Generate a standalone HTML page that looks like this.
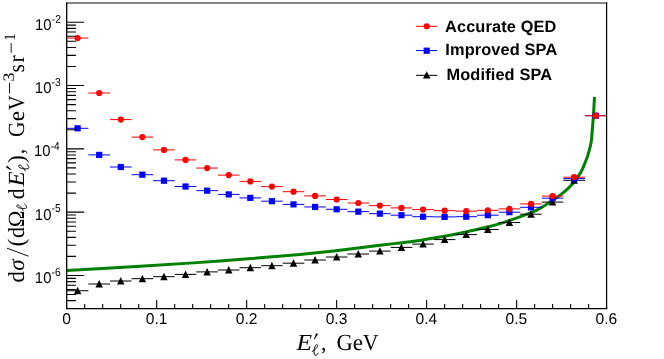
<!DOCTYPE html>
<html><head><meta charset="utf-8"><title>plot</title>
<style>
html,body{margin:0;padding:0;background:#fff;}
body{width:664px;height:359px;position:relative;overflow:hidden;font-family:"Liberation Sans",sans-serif;color:#000;}
#wrap{position:absolute;left:0;top:0;width:664px;height:359px;will-change:transform;text-rendering:geometricPrecision;}
.t{position:absolute;white-space:nowrap;line-height:1;}
.yl{font-size:16px;}
.yl sup{font-size:11.3px;position:relative;top:-6.9px;vertical-align:baseline;line-height:0;margin-left:-0.9px}
.xl{font-size:16px;width:60px;text-align:center;}
.lg{font-size:16.35px;letter-spacing:0.13px;font-weight:bold;}
</style></head><body><div id="wrap">
<svg width="664" height="359" viewBox="0 0 664 359" style="position:absolute;left:0;top:0">
<path d="M66.7 270.4 C78.92 269.72 114.45 267.87 140 266.3 C165.55 264.73 193.33 262.98 220 261 C246.67 259.02 280 256.2 300 254.4 C320 252.6 326.67 251.72 340 250.2 C353.33 248.68 370 246.52 380 245.3 C390 244.08 393.33 243.72 400 242.9 C406.67 242.08 413.33 241.37 420 240.4 C426.67 239.43 433.33 238.3 440 237.1 C446.67 235.9 453.33 234.58 460 233.2 C466.67 231.82 473.33 230.4 480 228.8 C486.67 227.2 491.45 226.3 500 223.6 C508.55 220.9 524.42 215.27 531.3 212.6 C538.18 209.93 537.97 209.48 541.3 207.6 C544.63 205.72 548.17 203.38 551.3 201.3 C554.43 199.22 557.38 197.18 560.1 195.1 C562.82 193.02 565.3 190.9 567.6 188.8 C569.9 186.7 572.12 184.58 573.9 182.5 C575.68 180.42 576.95 178.38 578.3 176.3 C579.65 174.22 580.85 172.3 582 170 C583.15 167.7 584.22 164.98 585.2 162.5 C586.18 160.02 586.92 158.43 587.9 155.1 C588.88 151.77 590.37 146.68 591.1 142.5 C591.83 138.32 591.88 134.92 592.3 130 C592.72 125.08 593.24 118.52 593.6 113 C593.96 107.48 594.31 99.58 594.45 96.9" fill="none" stroke="#008000" stroke-width="3" stroke-linecap="butt" stroke-linejoin="round"/>
<g stroke="#000" stroke-width="1" fill="#000">
<path d="M66.8 290.75H88.4" fill="none"/>
<path d="M77.6 286.85L81.35 294.25L73.85 294.25Z" stroke="none"/>
<path d="M88.39 284H109.99" fill="none"/>
<path d="M99.19 280.1L102.94 287.5L95.44 287.5Z" stroke="none"/>
<path d="M109.98 281H131.58" fill="none"/>
<path d="M120.78 277.1L124.53 284.5L117.03 284.5Z" stroke="none"/>
<path d="M131.57 278.7H153.17" fill="none"/>
<path d="M142.37 274.8L146.12 282.2L138.62 282.2Z" stroke="none"/>
<path d="M153.16 276.7H174.76" fill="none"/>
<path d="M163.96 272.8L167.71 280.2L160.21 280.2Z" stroke="none"/>
<path d="M174.75 274.4H196.35" fill="none"/>
<path d="M185.55 270.5L189.3 277.9L181.8 277.9Z" stroke="none"/>
<path d="M196.34 271.9H217.94" fill="none"/>
<path d="M207.14 268L210.89 275.4L203.39 275.4Z" stroke="none"/>
<path d="M217.93 270H239.53" fill="none"/>
<path d="M228.73 266.1L232.48 273.5L224.98 273.5Z" stroke="none"/>
<path d="M239.52 267.7H261.12" fill="none"/>
<path d="M250.32 263.8L254.07 271.2L246.57 271.2Z" stroke="none"/>
<path d="M261.11 265.7H282.71" fill="none"/>
<path d="M271.91 261.8L275.66 269.2L268.16 269.2Z" stroke="none"/>
<path d="M282.7 263.2H304.3" fill="none"/>
<path d="M293.5 259.3L297.25 266.7L289.75 266.7Z" stroke="none"/>
<path d="M304.29 260H325.89" fill="none"/>
<path d="M315.09 256.1L318.84 263.5L311.34 263.5Z" stroke="none"/>
<path d="M325.88 257H347.48" fill="none"/>
<path d="M336.68 253.1L340.43 260.5L332.93 260.5Z" stroke="none"/>
<path d="M347.47 254H369.07" fill="none"/>
<path d="M358.27 250.1L362.02 257.5L354.52 257.5Z" stroke="none"/>
<path d="M369.06 251.1H390.66" fill="none"/>
<path d="M379.86 247.2L383.61 254.6L376.11 254.6Z" stroke="none"/>
<path d="M390.65 247.4H412.25" fill="none"/>
<path d="M401.45 243.5L405.2 250.9L397.7 250.9Z" stroke="none"/>
<path d="M412.24 244.1H433.84" fill="none"/>
<path d="M423.04 240.2L426.79 247.6L419.29 247.6Z" stroke="none"/>
<path d="M433.83 239.6H455.43" fill="none"/>
<path d="M444.63 235.7L448.38 243.1L440.88 243.1Z" stroke="none"/>
<path d="M455.42 234.6H477.02" fill="none"/>
<path d="M466.22 230.7L469.97 238.1L462.47 238.1Z" stroke="none"/>
<path d="M477.01 229.5H498.61" fill="none"/>
<path d="M487.81 225.6L491.56 233L484.06 233Z" stroke="none"/>
<path d="M498.6 222.5H520.2" fill="none"/>
<path d="M509.4 218.6L513.15 226L505.65 226Z" stroke="none"/>
<path d="M520.19 214.2H541.79" fill="none"/>
<path d="M530.99 210.3L534.74 217.7L527.24 217.7Z" stroke="none"/>
<path d="M541.78 202.1H563.38" fill="none"/>
<path d="M552.58 198.2L556.33 205.6L548.83 205.6Z" stroke="none"/>
<path d="M563.37 180.3H584.97" fill="none"/>
<path d="M574.17 176.4L577.92 183.8L570.42 183.8Z" stroke="none"/>
</g>
<g stroke="#0000ff" stroke-width="1" fill="#0000ff">
<path d="M66.8 128.3H88.4" fill="none"/>
<rect x="74.5" y="125.2" width="6.2" height="6.2" stroke="none"/>
<path d="M88.39 154.9H109.99" fill="none"/>
<rect x="96.09" y="151.8" width="6.2" height="6.2" stroke="none"/>
<path d="M109.98 167H131.58" fill="none"/>
<rect x="117.68" y="163.9" width="6.2" height="6.2" stroke="none"/>
<path d="M131.57 174.7H153.17" fill="none"/>
<rect x="139.27" y="171.6" width="6.2" height="6.2" stroke="none"/>
<path d="M153.16 180.7H174.76" fill="none"/>
<rect x="160.86" y="177.6" width="6.2" height="6.2" stroke="none"/>
<path d="M174.75 186.5H196.35" fill="none"/>
<rect x="182.45" y="183.4" width="6.2" height="6.2" stroke="none"/>
<path d="M196.34 190.65H217.94" fill="none"/>
<rect x="204.04" y="187.55" width="6.2" height="6.2" stroke="none"/>
<path d="M217.93 194.4H239.53" fill="none"/>
<rect x="225.63" y="191.3" width="6.2" height="6.2" stroke="none"/>
<path d="M239.52 197.9H261.12" fill="none"/>
<rect x="247.22" y="194.8" width="6.2" height="6.2" stroke="none"/>
<path d="M261.11 201.2H282.71" fill="none"/>
<rect x="268.81" y="198.1" width="6.2" height="6.2" stroke="none"/>
<path d="M282.7 204.4H304.3" fill="none"/>
<rect x="290.4" y="201.3" width="6.2" height="6.2" stroke="none"/>
<path d="M304.29 206.95H325.89" fill="none"/>
<rect x="311.99" y="203.85" width="6.2" height="6.2" stroke="none"/>
<path d="M325.88 209.3H347.48" fill="none"/>
<rect x="333.58" y="206.2" width="6.2" height="6.2" stroke="none"/>
<path d="M347.47 211.65H369.07" fill="none"/>
<rect x="355.17" y="208.55" width="6.2" height="6.2" stroke="none"/>
<path d="M369.06 213.66H390.66" fill="none"/>
<rect x="376.76" y="210.56" width="6.2" height="6.2" stroke="none"/>
<path d="M390.65 215.2H412.25" fill="none"/>
<rect x="398.35" y="212.1" width="6.2" height="6.2" stroke="none"/>
<path d="M412.24 216.7H433.84" fill="none"/>
<rect x="419.94" y="213.6" width="6.2" height="6.2" stroke="none"/>
<path d="M433.83 216.9H455.43" fill="none"/>
<rect x="441.53" y="213.8" width="6.2" height="6.2" stroke="none"/>
<path d="M455.42 216.7H477.02" fill="none"/>
<rect x="463.12" y="213.6" width="6.2" height="6.2" stroke="none"/>
<path d="M477.01 215.2H498.61" fill="none"/>
<rect x="484.71" y="212.1" width="6.2" height="6.2" stroke="none"/>
<path d="M498.6 212.2H520.2" fill="none"/>
<rect x="506.3" y="209.1" width="6.2" height="6.2" stroke="none"/>
<path d="M520.19 207.3H541.79" fill="none"/>
<rect x="527.89" y="204.2" width="6.2" height="6.2" stroke="none"/>
<path d="M541.78 198.15H563.38" fill="none"/>
<rect x="549.48" y="195.05" width="6.2" height="6.2" stroke="none"/>
<path d="M563.37 178.6H584.97" fill="none"/>
<rect x="571.07" y="175.5" width="6.2" height="6.2" stroke="none"/>
<path d="M584.96 115.7H606.56" fill="none"/>
<rect x="592.66" y="112.6" width="6.2" height="6.2" stroke="none"/>
</g>
<g stroke="#ff0000" stroke-width="1" fill="#ff0000">
<path d="M66.8 38.05H88.4" fill="none"/>
<circle cx="77.6" cy="38.05" r="3.1" stroke="none"/>
<path d="M88.39 93H109.99" fill="none"/>
<circle cx="99.19" cy="93" r="3.1" stroke="none"/>
<path d="M109.98 119.6H131.58" fill="none"/>
<circle cx="120.78" cy="119.6" r="3.1" stroke="none"/>
<path d="M131.57 137.1H153.17" fill="none"/>
<circle cx="142.37" cy="137.1" r="3.1" stroke="none"/>
<path d="M153.16 149.9H174.76" fill="none"/>
<circle cx="163.96" cy="149.9" r="3.1" stroke="none"/>
<path d="M174.75 159.9H196.35" fill="none"/>
<circle cx="185.55" cy="159.9" r="3.1" stroke="none"/>
<path d="M196.34 168.05H217.94" fill="none"/>
<circle cx="207.14" cy="168.05" r="3.1" stroke="none"/>
<path d="M217.93 175.1H239.53" fill="none"/>
<circle cx="228.73" cy="175.1" r="3.1" stroke="none"/>
<path d="M239.52 181.4H261.12" fill="none"/>
<circle cx="250.32" cy="181.4" r="3.1" stroke="none"/>
<path d="M261.11 186.6H282.71" fill="none"/>
<circle cx="271.91" cy="186.6" r="3.1" stroke="none"/>
<path d="M282.7 191.7H304.3" fill="none"/>
<circle cx="293.5" cy="191.7" r="3.1" stroke="none"/>
<path d="M304.29 195.9H325.89" fill="none"/>
<circle cx="315.09" cy="195.9" r="3.1" stroke="none"/>
<path d="M325.88 199.5H347.48" fill="none"/>
<circle cx="336.68" cy="199.5" r="3.1" stroke="none"/>
<path d="M347.47 203H369.07" fill="none"/>
<circle cx="358.27" cy="203" r="3.1" stroke="none"/>
<path d="M369.06 205.6H390.66" fill="none"/>
<circle cx="379.86" cy="205.6" r="3.1" stroke="none"/>
<path d="M390.65 207.9H412.25" fill="none"/>
<circle cx="401.45" cy="207.9" r="3.1" stroke="none"/>
<path d="M412.24 209.6H433.84" fill="none"/>
<circle cx="423.04" cy="209.6" r="3.1" stroke="none"/>
<path d="M433.83 210.65H455.43" fill="none"/>
<circle cx="444.63" cy="210.65" r="3.1" stroke="none"/>
<path d="M455.42 211.15H477.02" fill="none"/>
<circle cx="466.22" cy="211.15" r="3.1" stroke="none"/>
<path d="M477.01 210.3H498.61" fill="none"/>
<circle cx="487.81" cy="210.3" r="3.1" stroke="none"/>
<path d="M498.6 208.9H520.2" fill="none"/>
<circle cx="509.4" cy="208.9" r="3.1" stroke="none"/>
<path d="M520.19 203.9H541.79" fill="none"/>
<circle cx="530.99" cy="203.9" r="3.1" stroke="none"/>
<path d="M541.78 196.1H563.38" fill="none"/>
<circle cx="552.58" cy="196.1" r="3.1" stroke="none"/>
<path d="M563.37 177.2H584.97" fill="none"/>
<circle cx="574.17" cy="177.2" r="3.1" stroke="none"/>
<path d="M584.96 115.7H606.56" fill="none"/>
<circle cx="595.76" cy="115.7" r="3.1" stroke="none"/>
</g>
<g stroke="#000" stroke-width="1.2" fill="none">
<path d="M66.7 2.4V309.1" stroke-width="1.3"/>
<path d="M606.6 2.4V309.1" stroke-width="1.25"/>
<path d="M66.1 308.5H607.2" stroke-width="1.25"/>
<path d="M66.1 3H607.2" stroke-width="1.1" stroke="#111"/>
<path d="M66.7 300.64h9.2M66.7 294.51h9.2M66.7 289.49h9.2M66.7 285.26h9.2M66.7 281.58h9.2M66.7 278.35h9.2M66.7 275.45h17.5M66.7 256.39h9.2M66.7 245.25h9.2M66.7 237.34h9.2M66.7 231.21h9.2M66.7 226.19h9.2M66.7 221.96h9.2M66.7 218.28h9.2M66.7 215.05h9.2M66.7 212.15h17.5M66.7 193.09h9.2M66.7 181.95h9.2M66.7 174.04h9.2M66.7 167.91h9.2M66.7 162.89h9.2M66.7 158.66h9.2M66.7 154.98h9.2M66.7 151.75h9.2M66.7 148.85h17.5M66.7 129.79h9.2M66.7 118.65h9.2M66.7 110.74h9.2M66.7 104.61h9.2M66.7 99.59h9.2M66.7 95.36h9.2M66.7 91.68h9.2M66.7 88.45h9.2M66.7 85.55h17.5M66.7 66.49h9.2M66.7 55.35h9.2M66.7 47.44h9.2M66.7 41.31h9.2M66.7 36.29h9.2M66.7 32.06h9.2M66.7 28.38h9.2M66.7 25.15h9.2M66.7 22.25h17.5M84.7 308.5v-4.4M102.69 308.5v-4.4M120.69 308.5v-4.4M138.69 308.5v-4.4M156.68 308.5v-8.6M174.68 308.5v-4.4M192.68 308.5v-4.4M210.67 308.5v-4.4M228.67 308.5v-4.4M246.67 308.5v-8.6M264.66 308.5v-4.4M282.66 308.5v-4.4M300.66 308.5v-4.4M318.65 308.5v-4.4M336.65 308.5v-8.6M354.65 308.5v-4.4M372.64 308.5v-4.4M390.64 308.5v-4.4M408.64 308.5v-4.4M426.63 308.5v-8.6M444.63 308.5v-4.4M462.63 308.5v-4.4M480.62 308.5v-4.4M498.62 308.5v-4.4M516.62 308.5v-8.6M534.61 308.5v-4.4M552.61 308.5v-4.4M570.61 308.5v-4.4M588.6 308.5v-4.4" stroke-width="1.1"/>
</g>
<path d="M416 26.35H437.3" stroke="#ff0000" stroke-width="1"/><circle cx="426.7" cy="26.25" r="3.1" fill="#ff0000"/>
<path d="M416 50.55H437.3" stroke="#0000ff" stroke-width="1"/><rect x="423.6" y="47.6" width="6.2" height="6.2" fill="#0000ff"/>
<path d="M416 75.35H437.3" stroke="#000" stroke-width="1"/><path d="M426.7 71.2L430.45 78.6L422.95 78.6Z" fill="#000"/>
<g transform="translate(23.6 282) rotate(-90)" font-family="Liberation Serif, serif" fill="#000">
<text transform="translate(-0.42 0) scale(1.027 1.050)" font-size="22">d</text>
<text transform="translate(11.26 0) scale(1.051 1.050)" font-size="22" font-style="italic">σ</text>
<path d="M25.8 4.9L33.8 -16.6" stroke="#000" stroke-width="0.95" fill="none"/>
<text x="35.56" y="0" font-size="23.7">(</text>
<text transform="translate(43.9 0) scale(1.006 1.050)" font-size="22">d</text>
<text transform="translate(54.64 0) scale(1.016 1.050)" font-size="22">Ω</text>
<path d="M71.52 -0.46C73.98 -1.66 77.55 -4.72 76.99 -6.3C76.66 -7.23 75.1 -6.95 74.43 -5.28C73.42 -2.78 72.97 1.02 73.87 2.6C74.54 3.62 76.44 2.97 77.78 1.12" fill="none" stroke="#000" stroke-width="0.95" stroke-linecap="round"/>
<text transform="translate(82.82 0) scale(0.986 1.050)" font-size="22">d</text>
<text transform="translate(95.49 0) scale(1.132 1.050)" font-size="22" font-style="italic">E</text>
<path d="M111.75 -12.4L112.45 -12.2L116.4 -16.7L114.6 -17.5Z" fill="#000" stroke="none"/>
<path d="M111.04 1.65C113.68 0.39 117.52 -2.79 116.92 -4.43C116.56 -5.39 114.88 -5.1 114.16 -3.37C113.08 -0.76 112.6 3.19 113.56 4.83C114.28 5.89 116.32 5.21 117.76 3.28" fill="none" stroke="#000" stroke-width="0.95" stroke-linecap="round"/>
<text x="118.94" y="0" font-size="23.7">)</text>
<text transform="translate(127.76 0) scale(1.000 1.050)" font-size="22">,</text>
<text transform="translate(144.92 0) scale(0.979 1.050)" font-size="22">G</text>
<text transform="translate(160.68 0) scale(1.068 1.050)" font-size="22">e</text>
<text transform="translate(171.72 0) scale(0.942 1.050)" font-size="22">V</text>
<path d="M188.55 -14.1H199.15" stroke="#000" stroke-width="0.9" fill="none"/>
<text transform="translate(200.54 -9.9) scale(1.179 1.050)" font-size="15.2">3</text>
<text transform="translate(209.42 0) scale(0.976 1.050)" font-size="22">s</text>
<text transform="translate(219.57 0) scale(0.986 1.050)" font-size="22">r</text>
<path d="M229.25 -12.45H238.95" stroke="#000" stroke-width="0.9" fill="none"/>
<text transform="translate(240.9 -8.55) scale(1.046 1.050)" font-size="15.2">1</text>
</g>
<g transform="translate(0 349.5)" font-family="Liberation Serif, serif" fill="#000">
<text transform="translate(296.5 0) scale(1.154 1.050)" font-size="22" font-style="italic">E</text>
<path d="M313.75 -10.1L314.45 -9.9L318 -15.4L316.2 -16.2Z" fill="#000" stroke="none"/>
<path d="M312.22 2C314.6 0.7 318.07 -2.6 317.52 -4.3C317.2 -5.3 315.68 -5 315.03 -3.2C314.06 -0.5 313.62 3.6 314.49 5.3C315.14 6.4 316.98 5.7 318.28 3.7" fill="none" stroke="#000" stroke-width="0.95" stroke-linecap="round"/>
<text transform="translate(321.11 0) scale(1.000 1.050)" font-size="22">,</text>
<text transform="translate(336.47 0) scale(1.028 1.050)" font-size="22">G</text>
<text transform="translate(352.79 0) scale(1.056 1.050)" font-size="22">e</text>
<text transform="translate(362.75 0) scale(0.994 1.050)" font-size="22">V</text>
</g>
<g font-family="Liberation Sans, sans-serif" fill="#000">
<text transform="translate(34.87 282.85) scale(0.952 1.000)" font-size="15.6">10</text>
<text transform="translate(51.55 275.75) scale(0.890 1.000)" font-size="11.5">-6</text>
<text transform="translate(34.87 219.75) scale(0.952 1.000)" font-size="15.6">10</text>
<text transform="translate(51.55 212.3) scale(0.888 1.000)" font-size="11.5">-5</text>
<text transform="translate(33.97 155.85) scale(0.952 1.000)" font-size="15.6">10</text>
<text transform="translate(50.65 149.85) scale(0.874 1.000)" font-size="11.5">-4</text>
<text transform="translate(34.87 92.55) scale(0.952 1.000)" font-size="15.6">10</text>
<text transform="translate(51.55 85.65) scale(0.890 1.000)" font-size="11.5">-3</text>
<text transform="translate(35.07 30.15) scale(0.952 1.000)" font-size="15.6">10</text>
<text transform="translate(51.74 23.25) scale(0.898 1.000)" font-size="11.5">-2</text>
<text x="62.16" y="324" font-size="15.6">0</text>
<text x="145.72" y="324" font-size="15.6">0.1</text>
<text x="235.71" y="324" font-size="15.6">0.2</text>
<text x="325.65" y="324" font-size="15.6">0.3</text>
<text x="415.51" y="324" font-size="15.6">0.4</text>
<text x="505.6" y="324" font-size="15.6">0.5</text>
<text x="595.6" y="324" font-size="15.6">0.6</text>
</g>
<g font-family="Liberation Sans, sans-serif" font-weight="bold" fill="#000" font-size="16.35" letter-spacing="0.13">
<text x="444.99" y="31.9">Accurate QED</text>
<text x="445.31" y="54.7">Improved SPA</text>
<text x="446.51" y="79.7">Modified SPA</text>
</g>
</svg>
</div></body></html>
